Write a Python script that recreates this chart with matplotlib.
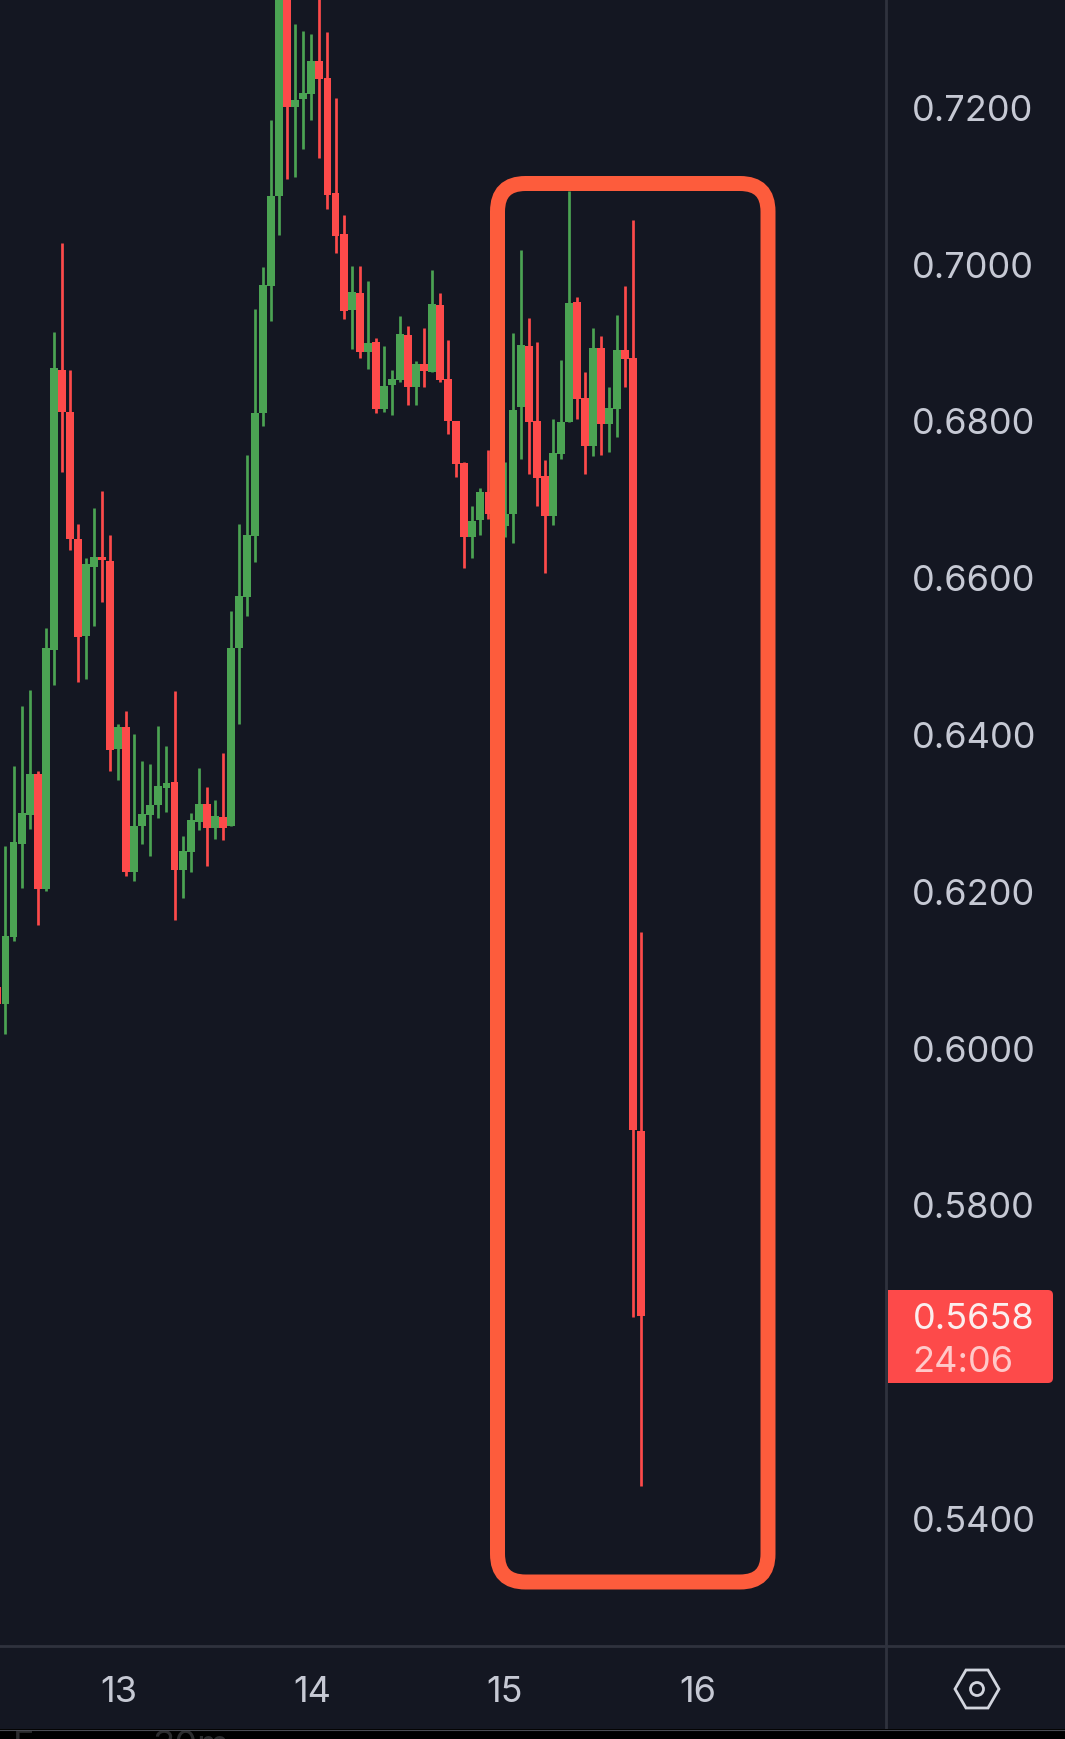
import matplotlib
matplotlib.use("Agg")
import matplotlib.pyplot as plt
import matplotlib.patches as mpatches
import numpy as np

W, H = 1065, 1740

# --- Design tokens ---
BG = "#141722"
BORDER = "#2f323e"
TEXT = "#c6c9d4"
GREEN = "#4ba353"
RED = "#fd4a4a"
BOX = "#fd5c3c"

opens = [0.6077, 0.6056, 0.6141, 0.6260, 0.6297, 0.6349, 0.6202, 0.6507, 0.6864, 0.6811,
         0.6649, 0.6525, 0.6613, 0.6626, 0.6621, 0.6381, 0.6409, 0.6224, 0.6283, 0.6297,
         0.6310, 0.6331, 0.6339, 0.6227, 0.6250, 0.6288, 0.6311, 0.6280, 0.6294, 0.6283,
         0.6510, 0.6575, 0.6653, 0.6809, 0.6971, 0.7086, 0.7344, 0.7200, 0.7210, 0.7216,
         0.7258, 0.7237, 0.7090, 0.7038, 0.6941, 0.6963, 0.6887, 0.6900, 0.6815, 0.6845,
         0.6852, 0.6909, 0.6843, 0.6872, 0.6862, 0.6947, 0.6853, 0.6799, 0.6746, 0.6651,
         0.6673, 0.6709, 0.6681, 0.6665, 0.6681, 0.6817, 0.6895, 0.6799, 0.6729, 0.6678,
         0.6757, 0.6798, 0.6951, 0.6829, 0.6767, 0.6892, 0.6795, 0.6815, 0.6890, 0.6880,
         0.5894]
highs = [0.6081, 0.6257, 0.6359, 0.6436, 0.6456, 0.6353, 0.6535, 0.6913, 0.7026, 0.6864,
         0.6668, 0.6624, 0.6688, 0.6710, 0.6654, 0.6413, 0.6429, 0.6400, 0.6366, 0.6362,
         0.6410, 0.6385, 0.6455, 0.6270, 0.6299, 0.6357, 0.6332, 0.6316, 0.6376, 0.6557,
         0.6668, 0.6756, 0.6942, 0.6996, 0.7183, 0.7363, 0.7363, 0.7306, 0.7297, 0.7293,
         0.7363, 0.7295, 0.7211, 0.7062, 0.6997, 0.6997, 0.6978, 0.6905, 0.6895, 0.6864,
         0.6933, 0.6920, 0.6876, 0.6918, 0.6992, 0.6963, 0.6903, 0.6799, 0.6747, 0.6691,
         0.6714, 0.6762, 0.6700, 0.6747, 0.6912, 0.7017, 0.6931, 0.6900, 0.6750, 0.6802,
         0.6877, 0.7093, 0.6957, 0.6862, 0.6918, 0.6908, 0.6843, 0.6934, 0.6971, 0.7056,
         0.6148]
lows = [0.6052, 0.6017, 0.6136, 0.6204, 0.6279, 0.6156, 0.6200, 0.6462, 0.6734, 0.6635,
        0.6466, 0.6470, 0.6538, 0.6568, 0.6353, 0.6341, 0.6219, 0.6213, 0.6260, 0.6244,
        0.6293, 0.6300, 0.6163, 0.6191, 0.6224, 0.6278, 0.6232, 0.6266, 0.6265, 0.6283,
        0.6413, 0.6550, 0.6619, 0.6793, 0.6927, 0.7037, 0.7108, 0.7110, 0.7146, 0.7183,
        0.7135, 0.7070, 0.7014, 0.6929, 0.6891, 0.6880, 0.6866, 0.6809, 0.6811, 0.6807,
        0.6849, 0.6820, 0.6820, 0.6843, 0.6862, 0.6849, 0.6783, 0.6728, 0.6612, 0.6624,
        0.6654, 0.6674, 0.6665, 0.6651, 0.6644, 0.6751, 0.6732, 0.6691, 0.6605, 0.6667,
        0.6751, 0.6798, 0.6802, 0.6732, 0.6755, 0.6756, 0.6760, 0.6779, 0.6843, 0.5656,
        0.5441]
closes = [0.6056, 0.6142, 0.6262, 0.6299, 0.6349, 0.6202, 0.6510, 0.6867, 0.6811, 0.6649,
          0.6524, 0.6617, 0.6626, 0.6622, 0.6380, 0.6409, 0.6224, 0.6283, 0.6298, 0.6310,
          0.6334, 0.6338, 0.6227, 0.6251, 0.6290, 0.6311, 0.6280, 0.6295, 0.6280, 0.6510,
          0.6576, 0.6654, 0.6809, 0.6973, 0.7086, 0.7344, 0.7200, 0.7209, 0.7218, 0.7258,
          0.7235, 0.7088, 0.7035, 0.6940, 0.6964, 0.6887, 0.6899, 0.6815, 0.6844, 0.6853,
          0.6910, 0.6843, 0.6872, 0.6863, 0.6949, 0.6852, 0.6799, 0.6744, 0.6651, 0.6672,
          0.6709, 0.6681, 0.6690, 0.6681, 0.6813, 0.6896, 0.6798, 0.6727, 0.6678, 0.6758,
          0.6798, 0.6950, 0.6827, 0.6767, 0.6892, 0.6795, 0.6816, 0.6890, 0.6878, 0.5895,
          0.5658]

price_ticks = [0.54, 0.58, 0.60, 0.62, 0.64, 0.66, 0.68, 0.70, 0.72]
day_ticks = [15.1, 39.1, 63.0, 87.0]
day_labels = ["13", "14", "15", "16"]
last_price = "0.5658"
countdown = "24:06"

FONT = "Inter"
plt.rcParams["font.family"] = [FONT, "DejaVu Sans"]

fig = plt.figure(figsize=(W / 100, H / 100), dpi=100, facecolor=BG)

# main chart panel, 886 x 1647 px
ax = fig.add_axes([0, 1 - 1647 / H, 886 / W, 1647 / H], facecolor=BG)
ax.set_xlim(0.32, 110.38)
ax.set_ylim(0.54 - 128 / 7840, 0.54 + 1519 / 7840)

idx = np.arange(len(opens))
o, h, l, c = map(np.array, (opens, highs, lows, closes))
colors = [GREEN if cc >= oo else RED for oo, cc in zip(o, c)]

ax.vlines(idx, l, h, colors=colors, linewidth=1.95, zorder=2)
ax.bar(idx, np.abs(c - o), bottom=np.minimum(o, c), width=0.98,
       color=colors, linewidth=0, zorder=3)

ax.yaxis.tick_right()
ax.set_yticks(price_ticks)
ax.set_yticklabels([f"{p:.4f}" for p in price_ticks])
ax.set_xticks(day_ticks)
ax.set_xticklabels(day_labels)
ax.tick_params(axis="y", length=0, pad=18.5, labelsize=26, labelcolor=TEXT)
ax.tick_params(axis="x", length=0, pad=21, labelsize=26, labelcolor=TEXT)
for name, sp in ax.spines.items():
    sp.set_visible(False)

# overlay in pixel coords: highlight box, price tag, scale borders, settings icon
ov = fig.add_axes([0, 0, 1, 1], facecolor="none")
ov.set_xlim(0, W)
ov.set_ylim(H, 0)
ov.axis("off")

ov.add_patch(mpatches.FancyBboxPatch((497.5, 184.5), 270.5, 1398.5,
                                     boxstyle="round,pad=0,rounding_size=28",
                                     fc="none", ec=BOX, lw=10.8, zorder=5))

ov.plot([886, 886], [0, 1730], color=BORDER, lw=2.0, zorder=1)
ov.plot([0, W], [1647, 1647], color=BORDER, lw=2.0, zorder=1)

ov.add_patch(mpatches.Rectangle((888, 1291), 30, 93, fc=RED, ec="none", zorder=4))
ov.add_patch(mpatches.FancyBboxPatch((888, 1291), 165, 93,
                                     boxstyle="round,pad=0,rounding_size=5",
                                     fc=RED, ec="none", zorder=4))
ov.text(912.5, 1320, last_price, color="#fbeeee", fontsize=26, va="center", ha="left", zorder=6)
ov.text(912.5, 1363, countdown, color="#ffc9c9", fontsize=26, va="center", ha="left", zorder=6)

hex_x = 977 + np.array([-22, -11, 11, 22, 11, -11])
hex_y = 1690 + np.array([0, -19, -19, 0, 19, 19])
ov.add_patch(mpatches.Polygon(np.c_[hex_x, hex_y], closed=True, fc="none",
                              ec="#d2d5de", lw=2.0, zorder=5))
ov.add_patch(mpatches.Circle((977, 1690), 6.5, fc="none", ec="#d2d5de", lw=2.0, zorder=5))

# black strip at the bottom with cut-off tab labels
ov.add_patch(mpatches.Rectangle((0, 1730), W, 10, fc="#000000", ec="none", zorder=6))
ov.plot([0, W], [1730.5, 1730.5], color="#4a4b52", lw=0.8, zorder=7)
ov.text(13, 1730.5, "F", color="#2c2c2e", fontsize=26, va="top", zorder=6.5, clip_on=True)
ov.text(153, 1730.5, "30m", color="#2c2c2e", fontsize=26, va="top", zorder=6.5, clip_on=True)

fig.savefig("out.png", dpi=100, facecolor=BG)
plt.close()
